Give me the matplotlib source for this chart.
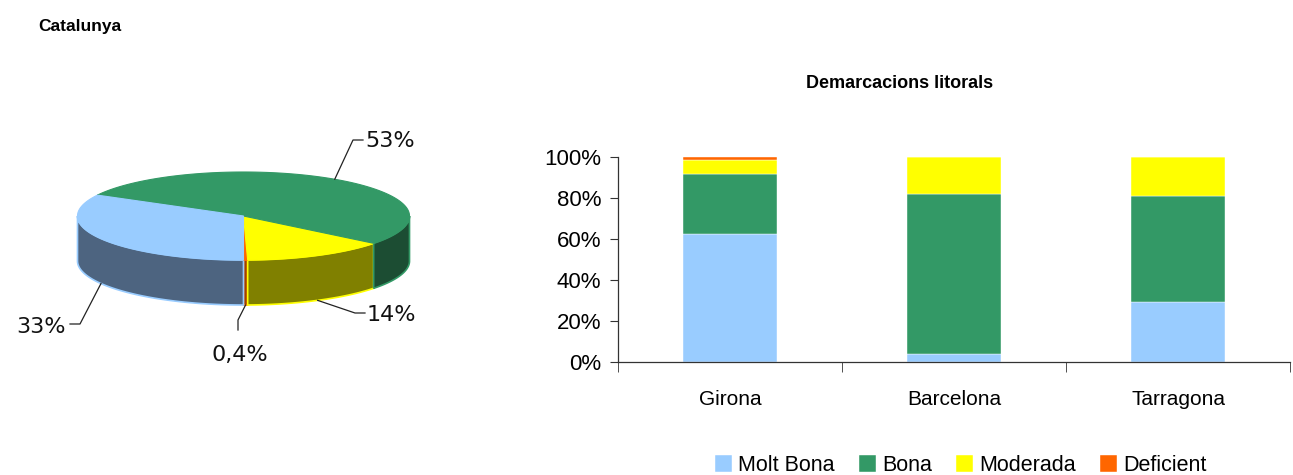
import numpy as np
import matplotlib
matplotlib.use('Agg')
import matplotlib.pyplot as plt
from matplotlib.patches import Polygon

plt.rcParams['font.family'] = ['Liberation Sans', 'DejaVu Sans']

# data
categories = ['Molt Bona', 'Bona', 'Moderada', 'Deficient']
colors = ['#99CCFF', '#339966', '#FFFF00', '#FF6600']
side_colors = ['#4D6480', '#1C4D33', '#808000', '#A04000']
side_edges = ['#99CCFF', '#339966', '#FFFF00', '#FF6600']

pie_values = [33, 53, 14, 0.4]
pie_labels = ['33%', '53%', '14%', '0,4%']

regions = ['Girona', 'Barcelona', 'Tarragona']
molt_bona = [62.3, 4.0, 29.3]
bona = [29.4, 78.0, 51.7]
moderada = [6.8, 18.0, 19.0]
deficient = [1.5, 0.0, 0.0]

W, H = 1293, 475
fig = plt.figure(figsize=(W / 100, H / 100), dpi=100)

# ---- 3D pie drawn in pixel coordinates ----
pax = fig.add_axes([0, 0, 1, 1])
pax.set_xlim(0, W)
pax.set_ylim(H, 0)
pax.axis('off')

cx, cy, a, b, depth = 243.5, 216, 166, 44, 45

# order counter-clockwise starting at the front: Deficient, Moderada, Bona, Molt Bona
order = [3, 2, 1, 0]
total = sum(pie_values)
start = 270.0
spans = {}
for i in order:
    ext = pie_values[i] / total * 360
    spans[i] = (start, start + ext)
    start += ext


def pt(t, dz=0):
    t = np.radians(t)
    return cx + a * np.cos(t), cy - b * np.sin(t) + dz


# side walls (front half only, 180..360 deg)
for i in order:
    t0, t1 = spans[i]
    for off in (0, 360, -360):
        lo, hi = max(t0 + off, 180), min(t1 + off, 360)
        if hi > lo:
            ts = np.linspace(lo, hi, 80)
            top = [pt(t) for t in ts]
            bot = [pt(t, depth) for t in ts[::-1]]
            pax.add_patch(Polygon(top + bot, closed=True, facecolor=side_colors[i],
                                  edgecolor=side_edges[i], lw=1.2, zorder=1))

# top faces
for i in order:
    t0, t1 = spans[i]
    ts = np.linspace(t0, t1, 200)
    verts = [(cx, cy)] + [pt(t) for t in ts]
    pax.add_patch(Polygon(verts, closed=True, facecolor=colors[i],
                          edgecolor=colors[i], lw=0.8, zorder=2))

# labels with leader lines
lab_font = dict(family='DejaVu Sans', fontsize=16, color='#111111')
for i in order:
    t0, t1 = spans[i]
    mid = (t0 + t1) / 2
    front = (mid % 360) > 180
    x0, y0 = pt(mid, depth if front else 0)
    if i == 1:
        path = [(x0, y0), (353, 140), (363, 140)]
        pax.text(365, 141, pie_labels[i], ha='left', va='center', **lab_font)
    elif i == 2:
        path = [(x0, y0), (355, 313), (365, 313)]
        pax.text(367, 315, pie_labels[i], ha='left', va='center', **lab_font)
    elif i == 0:
        path = [(x0, y0), (80, 324), (70, 324)]
        pax.text(66, 327, pie_labels[i], ha='right', va='center', **lab_font)
    else:
        path = [(x0, y0), (238, 320), (238, 330)]
        pax.text(240, 355, pie_labels[i], ha='center', va='center', **lab_font)
    xs, ys = zip(*path)
    pax.plot(xs, ys, color='#222222', lw=0.9, zorder=3)

fig.text(38 / W, 1 - 27 / H, 'Catalunya', fontsize=12.5, fontweight='bold', va='center')

# ---- stacked bars ----
ax = fig.add_axes([618 / W, (H - 362) / H, (1290 - 618) / W, 205 / H])
x = np.arange(len(regions))
bottom = np.zeros(len(regions))
for name, vals, col in zip(categories, [molt_bona, bona, moderada, deficient], colors):
    ax.bar(x, vals, width=0.42, bottom=bottom, color=col, label=name,
           edgecolor='white', linewidth=0.3)
    bottom += np.array(vals)

ax.set_xlim(-0.5, len(regions) - 0.5)
ax.set_ylim(0, 100)
ax.set_yticks(np.arange(0, 101, 20))
ax.set_yticklabels([f'{v}%' for v in range(0, 101, 20)], fontsize=16)
ax.set_xticks(x)
ax.set_xticklabels(regions, fontsize=15)
ax.set_xticks(np.arange(-0.5, len(regions)), minor=True)
ax.tick_params(axis='x', which='major', length=0, pad=20)
ax.tick_params(axis='x', which='minor', length=7, direction='out', color='#333333')
ax.tick_params(axis='y', length=6, direction='out', color='#333333', pad=6)
for s in ('top', 'right'):
    ax.spines[s].set_visible(False)
for s in ('left', 'bottom'):
    ax.spines[s].set_color('#333333')
    ax.spines[s].set_linewidth(0.9)

fig.text(900 / W, 1 - 83 / H, 'Demarcacions litorals', fontsize=13, fontweight='bold',
         ha='center', va='center')

leg = ax.legend(loc='center', bbox_to_anchor=(0.51, -0.505), ncol=4, frameon=False,
                fontsize=15.5, handlelength=0.8, handleheight=0.8, handletextpad=0.3,
                columnspacing=1.1)

fig.savefig('out.png', dpi=100)
